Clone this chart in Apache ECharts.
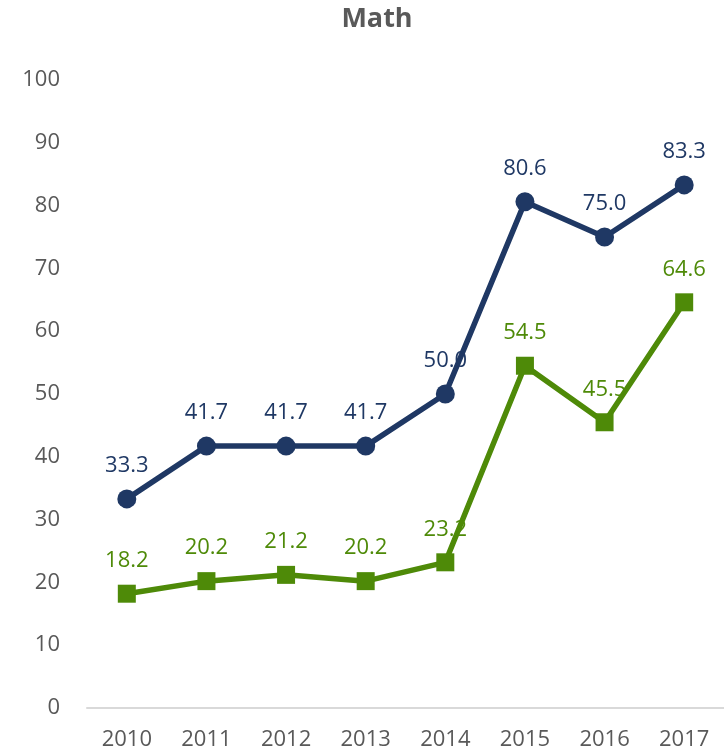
<!DOCTYPE html>
<html>
<head>
<meta charset="utf-8">
<script src="https://cdn.jsdelivr.net/npm/echarts@6/dist/echarts.min.js"></script>
<style>
  html, body { margin: 0; padding: 0; background: #fff; }
  #math { width: 724px; height: 754px; }
</style>
</head>
<body>
<div id="math"></div>
<script>
var years = ['2010', '2011', '2012', '2013', '2014', '2015', '2016', '2017'];
var blueVals = [33.3, 41.7, 41.7, 41.7, 50.0, 80.6, 75.0, 83.3];
var greenVals = [18.2, 20.2, 21.2, 20.2, 23.2, 54.5, 45.5, 64.6];

var chart = echarts.init(document.getElementById('math'));
var font = '"Open Sans", "Noto Sans", sans-serif';
var option = {
  animation: false,
  title: {
    text: 'Math',
    left: 372,
    textAlign: 'center',
    top: 1,
    textStyle: { fontFamily: font, fontSize: 27, fontWeight: 'bold', color: '#595959' }
  },
  grid: { left: 87, top: 80, width: 640, height: 628 },
  xAxis: {
    type: 'category',
    data: years,
    axisLine: { lineStyle: { color: '#d9d9d9', width: 2 } },
    axisTick: { show: false },
    axisLabel: { fontFamily: font, fontSize: 22, color: '#595959', margin: 21 }
  },
  yAxis: {
    type: 'value',
    min: 0, max: 100, interval: 10,
    splitLine: { show: false },
    axisLine: { show: false },
    axisTick: { show: false },
    axisLabel: { fontFamily: font, fontSize: 22, color: '#595959', margin: 27 }
  },
  series: [{
    name: 'blue',
    type: 'line',
    data: blueVals,
    symbol: 'circle',
    symbolSize: 19,
    color: '#1f3864',
    lineStyle: { width: 5.5, color: '#1f3864' },
    label: {
      show: true, position: 'top', distance: 13,
      formatter: function (p) { return p.value.toFixed(1); },
      fontFamily: font, fontSize: 22, color: '#1f3864'
    }
  }, {
    name: 'green',
    type: 'line',
    data: greenVals,
    symbol: 'rect',
    symbolSize: 18,
    color: '#4e8a08',
    lineStyle: { width: 5.5, color: '#4e8a08' },
    label: {
      show: true, position: 'top', distance: 13,
      formatter: function (p) { return p.value.toFixed(1); },
      fontFamily: font, fontSize: 22, color: '#4e8a08'
    }
  }]
};
chart.setOption(option);
</script>
</body>
</html>
